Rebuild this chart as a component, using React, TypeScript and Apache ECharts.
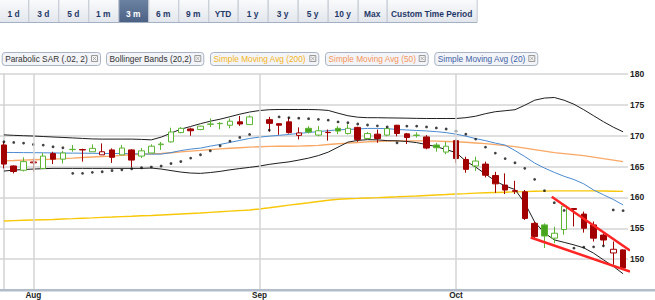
import React, { useEffect, useRef } from 'react';
import * as echarts from 'echarts';

const FONT = '"Liberation Sans", Arial, Helvetica, sans-serif';

// ---- x axis: weekday slots (holiday slot left empty) ----
const START_DATE = '2012-07-27';
const SLOT_COUNT = 64;
const MONTH_NAMES = ['Jan', 'Feb', 'Mar', 'Apr', 'May', 'Jun', 'Jul', 'Aug', 'Sep', 'Oct', 'Nov', 'Dec'];

// ---- price data (OHLC) ----
const opens = [168.5, 165.1, 164.4, 165.6, 164.7, 167.1, 166.2, 167.75, 167.75, 167.4,
  166.9, 167.7, 166.9, 167.7, 166.7, 167.2, 168.55, 169.0, 170.5, 171.1,
  171.0, 171.85, 171.95, 171.7, 172.25, 171.8, null, 172.6, 171.95, 172.25,
  170.05, 171.2, 170.1, 170.5, 171.2, 170.35, 171.35, 169.55, 170.25, 170.1,
  171.7, 170.3, 170.05, 169.8, 168.5, 167.35, 169.2, 166.15, 165.1, 165.4,
  163.55, 162.0, 161.1, 160.9, 155.8, 155.55, 153.4, 154.8, 158.2, 157.3,
  155.55, 153.9, 151.0, 151.5];
const closes = [165.4, 164.2, 165.8, 165.75, 166.7, 166.2, 167.2, 167.8, 167.7, 167.95,
  167.4, 166.5, 168.0, 166.05, 167.55, 168.3, 168.65, 170.6, 171.2, 170.8,
  171.55, 171.9, 172.0, 172.35, 171.9, 173.05, null, 172.0, 171.7, 170.5,
  170.45, 170.6, 170.8, 170.55, 170.75, 171.2, 169.4, 170.35, 169.55, 171.15,
  170.35, 169.7, 170.1, 168.0, 168.05, 168.3, 166.3, 164.55, 165.9, 163.6,
  162.2, 161.2, 161.0, 156.6, 153.65, 153.75, 154.2, 158.6, 158.05, 155.0,
  153.4, 153.1, 151.6, 148.55];
const lows = [164.7, 163.9, 164.2, 164.2, 164.7, 165.4, 165.5, 167.4, 165.8, 167.4,
  166.9, 165.6, 166.9, 164.9, 166.4, 167.2, 167.7, 168.9, 170.4, 170.0,
  170.9, 171.4, 171.05, 171.2, 171.6, 171.8, null, 170.65, 170.15, 170.35,
  169.4, 170.35, 169.9, 169.2, 170.25, 170.2, 169.0, 169.45, 168.85, 169.9,
  169.9, 168.65, 169.7, 167.8, 167.4, 167.0, 165.6, 164.0, 164.3, 163.25,
  160.75, 160.55, 160.55, 156.35, 153.4, 151.8, 152.6, 153.95, 155.3, 154.3,
  152.85, 152.15, 149.1, 148.3];
const highs = [169.0, 165.2, 166.5, 166.3, 167.2, 167.4, 167.55, 168.5, 167.9, 168.6,
  168.75, 167.95, 168.5, 167.8, 168.0, 168.6, 169.0, 171.3, 171.4, 171.3,
  171.6, 172.8, 172.2, 172.8, 173.2, 173.3, null, 173.05, 172.0, 172.95,
  171.35, 171.55, 171.55, 171.0, 171.55, 171.85, 171.45, 170.6, 171.0, 171.45,
  171.75, 170.45, 170.55, 170.1, 168.85, 169.0, 169.4, 166.6, 166.6, 165.8,
  164.15, 163.9, 162.7, 161.2, 156.1, 155.8, 155.25, 158.8, 158.25, 157.7,
  156.1, 154.2, 152.85, 151.6];

// ---- indicators ----
const bbUpper = [170.14, 170.06, 170.0, 169.95, 169.87, 169.79, 169.72, 169.64, 169.56, 169.48,
  169.45, 169.45, 169.45, 169.45, 169.4, 169.33, 169.77, 170.42, 171.06, 171.5,
  171.95, 172.35, 172.68, 173.08, 173.49, 173.84, 174.08, 174.21, 174.25, 174.25,
  174.25, 174.25, 174.21, 174.1, 173.65, 173.24, 173.0, 172.92, 172.92, 172.89,
  172.87, 172.84, 172.81, 172.79, 172.79, 172.79, 172.79, 172.92, 173.16, 173.57,
  173.89, 174.05, 174.21, 174.94, 175.75, 176.1, 176.19, 175.75, 175.1, 174.21,
  173.24, 172.27, 171.39, 170.63];
const bbLower = [164.27, 164.43, 164.52, 164.6, 164.66, 164.71, 164.71, 164.71, 164.71, 164.71,
  164.71, 164.71, 164.71, 164.71, 164.71, 164.76, 164.6, 164.35, 164.11, 163.95,
  163.9, 164.03, 164.22, 164.47, 164.68, 164.87, 165.08, 165.36, 165.57, 165.76,
  166.05, 166.37, 166.78, 167.34, 168.15, 168.96, 169.24, 169.36, 169.33, 169.2,
  169.17, 169.07, 168.88, 168.56, 168.23, 167.75, 167.26, 165.89, 164.92, 163.79,
  162.66, 161.85, 161.28, 159.1, 156.03, 154.25, 153.12, 152.72, 152.31, 151.83,
  150.97, 149.89, 148.84, 147.63];
const sma20 = [167.3, 167.28, 167.26, 167.25, 167.23, 167.22, 167.18, 167.18, 167.17, 167.15,
  167.13, 167.12, 167.1, 167.09, 167.05, 167.02, 167.02, 167.26, 167.59, 167.83,
  167.99, 168.31, 168.59, 168.91, 169.24, 169.56, 169.77, 169.93, 170.06, 170.21,
  170.37, 170.53, 170.66, 170.82, 170.95, 171.01, 171.09, 171.18, 171.18, 171.14,
  171.01, 170.93, 170.85, 170.77, 170.66, 170.5, 170.25, 169.93, 169.53, 169.2,
  168.8, 168.48, 167.59, 166.62, 165.57, 164.76, 164.06, 163.42, 162.9, 162.2,
  161.2, 160.43, 159.67, 158.78];
const sma50 = [165.94, 165.99, 166.05, 166.1, 166.15, 166.2, 166.28, 166.37, 166.47, 166.55,
  166.62, 166.7, 166.81, 166.92, 166.99, 167.05, 167.12, 167.25, 167.38, 167.51,
  167.62, 167.75, 167.86, 167.96, 168.06, 168.15, 168.22, 168.27, 168.29, 168.3,
  168.31, 168.38, 168.44, 168.57, 168.7, 168.8, 168.91, 169.01, 169.07, 169.12,
  169.17, 169.17, 169.17, 169.17, 169.12, 169.07, 169.01, 168.93, 168.83, 168.72,
  168.56, 168.4, 168.23, 167.99, 167.75, 167.51, 167.26, 167.1, 166.94, 166.78,
  166.54, 166.29, 166.05, 165.81];
const sma200 = [156.19, 156.24, 156.29, 156.34, 156.39, 156.43, 156.5, 156.56, 156.63, 156.69,
  156.76, 156.82, 156.89, 156.95, 157.02, 157.08, 157.16, 157.24, 157.32, 157.4,
  157.48, 157.58, 157.68, 157.78, 157.87, 157.97, 158.13, 158.33, 158.54, 158.75,
  158.94, 159.13, 159.34, 159.54, 159.7, 159.78, 159.84, 159.91, 159.97, 160.04,
  160.1, 160.17, 160.23, 160.31, 160.39, 160.47, 160.56, 160.62, 160.69, 160.75,
  160.8, 160.85, 160.9, 160.94, 160.99, 161.02, 161.06, 161.07, 161.07, 161.07,
  161.06, 161.04, 161.01, 160.98];
const sar = [169.01, 168.91, 168.8, 168.59, 168.48, 168.2, 168.04, 163.9, 163.9, 164.06,
  164.16, 164.35, 164.47, 164.65, 164.81, 164.92, 165.08, 165.49, 165.81, 166.37,
  166.91, 167.55, 168.36, 169.12, 169.72, 170.21, null, 170.9, 173.05, 172.92,
  172.84, 172.76, 172.65, 172.52, 172.24, 172.11, 171.9, 171.74, 171.6, 171.43,
  168.85, 171.55, 171.55, 171.42, 171.26, 171.09, 170.74, 170.25, 169.45, 168.15,
  167.18, 166.29, 165.61, 164.71, 162.93, 161.09, 159.15, 157.89, 151.78, 151.94,
  151.99, 152.15, 157.97, 157.86];

// ---- drawn trend lines (slot index, price) ----
const trendUpper = [[55.74, 160.1], [63.7, 151.4]];
const trendLower = [[53.6, 153.5], [63.7, 148.0]];

// ---- y axis ----
const Y_MIN = 145;
const Y_MAX = 180;
const Y_STEP = 5;

// ---- UI texts ----
const periodButtons = ['1 d', '3 d', '5 d', '1 m', '3 m', '6 m', '9 m', 'YTD', '1 y', '3 y', '5 y', '10 y', 'Max', 'Custom Time Period'];
const selectedButton = '3 m';
const indicatorLabels = ['Parabolic SAR (.02, 2)', 'Bollinger Bands (20,2)', 'Simple Moving Avg (200)', 'Simple Moving Avg (50)', 'Simple Moving Avg (20)'];

// layout (pixels)
const BTN_EDGES = [-1, 28.3, 58.3, 88.3, 118.3, 148.3, 178.3, 208.3, 237.7, 267.7, 297.7, 327.7, 357.7, 386.7, 476.7];
const BOX_EDGES = [[1.7, 100], [106, 203.3], [210, 318.3], [325, 427.7], [434.3, 537.3]];
const BOX_COLORS = ['#333333', '#333333', '#f5b418', '#f7945a', '#3f62a6'];

function weekdays(start: string, n: number): string[] {
  const out: string[] = [];
  const d = new Date(start + 'T00:00:00Z');
  while (out.length < n) {
    const wd = d.getUTCDay();
    if (wd !== 0 && wd !== 6) out.push(d.toISOString().slice(0, 10));
    d.setUTCDate(d.getUTCDate() + 1);
  }
  return out;
}

const categories = weekdays(START_DATE, SLOT_COUNT);
const monthStarts = categories
  .map((c, i) => (i > 0 && c.slice(5, 7) !== categories[i - 1].slice(5, 7) ? i : -1))
  .filter((i) => i >= 0);

const RED = '#a20000';
const GREEN = '#5cb533';
const GREEN_FILL = '#46a41e';

function buildCandles() {
  let prevClose: number | null = null;
  return opens.map((o, i) => {
    const c = closes[i];
    if (o == null || c == null) return { value: ['-', '-', '-', '-'] };
    const up = c > o;
    const green = prevClose != null && c >= prevClose;
    prevClose = c;
    const border = green ? GREEN : RED;
    const fill = up ? '#ffffff' : green ? GREEN_FILL : RED;
    return {
      value: [o, c, lows[i], highs[i]],
      itemStyle: { color: fill, color0: fill, borderColor: border, borderColor0: border },
    };
  });
}

function buildGraphics() {
  const els: any[] = [];
  periodButtons.forEach((label, k) => {
    const x0 = BTN_EDGES[k];
    const x1 = BTN_EDGES[k + 1];
    const sel = label === selectedButton;
    els.push({
      type: 'rect',
      shape: { x: x0 + 0.5, y: -5, width: x1 - x0, height: 27.5 },
      style: {
        fill: new echarts.graphic.LinearGradient(0, 0, 0, 1, sel
          ? [{ offset: 0, color: '#7489a8' }, { offset: 1, color: '#4b6184' }]
          : [{ offset: 0, color: '#ffffff' }, { offset: 1, color: '#e2e6ec' }]),
        stroke: '#c3c9d3',
        lineWidth: 1,
      },
    });
    els.push({
      type: 'text',
      x: (x0 + x1) / 2,
      y: 14,
      style: {
        text: label,
        fill: sel ? '#ffffff' : '#1f3868',
        fontSize: 8.4,
        fontWeight: 'bold',
        fontFamily: FONT,
        align: 'center',
        verticalAlign: 'middle',
        textAlign: 'center',
        textVerticalAlign: 'middle',
      },
    });
  });
  els.push({
    type: 'line',
    shape: { x1: 0, y1: 22.5, x2: 477, y2: 22.5 },
    style: { stroke: '#a3b1c6', lineWidth: 1 },
  });

  indicatorLabels.forEach((label, k) => {
    const [x0, x1] = BOX_EDGES[k];
    els.push({
      type: 'rect',
      shape: { x: x0 + 0.5, y: 52.5, width: x1 - x0, height: 13, r: 3 },
      style: { fill: '#f2f4f8', stroke: '#a9b3c3', lineWidth: 1 },
    });
    els.push({
      type: 'text',
      x: x0 + 3.5,
      y: 59,
      style: {
        text: label,
        fill: BOX_COLORS[k],
        fontSize: 8.3,
        fontFamily: FONT,
        align: 'left',
        verticalAlign: 'middle',
        textAlign: 'left',
        textVerticalAlign: 'middle',
      },
    });
    const ix = x1 - 9;
    els.push({
      type: 'rect',
      shape: { x: ix + 0.5, y: 55.5, width: 6, height: 6 },
      style: { fill: '#f4f4f4', stroke: '#9a9a9a', lineWidth: 1 },
    });
    els.push({
      type: 'line',
      shape: { x1: ix + 1.8, y1: 56.8, x2: ix + 5.2, y2: 60.2 },
      style: { stroke: '#9a9a9a', lineWidth: 0.8 },
    });
    els.push({
      type: 'line',
      shape: { x1: ix + 5.2, y1: 56.8, x2: ix + 1.8, y2: 60.2 },
      style: { stroke: '#9a9a9a', lineWidth: 0.8 },
    });
  });

  // bottom axis bar spanning the page width
  els.push({
    type: 'rect',
    shape: { x: 0, y: 289, width: 655, height: 2.6 },
    style: { fill: '#b2bccb' },
    z: 10,
  });
  return els;
}

export default function App() {
  const ref = useRef<HTMLDivElement>(null);

  useEffect(() => {
    if (!ref.current) return;
    const chart = echarts.init(ref.current, null, { renderer: 'svg' });
    const lineBase = { type: 'line', symbol: 'none', showSymbol: false, silent: true, xAxisIndex: 0, yAxisIndex: 0 };

    const option: any = {
      animation: false,
      textStyle: { fontFamily: FONT },
      grid: { left: -1, right: 27, top: 74, bottom: 10, containLabel: false, outerBoundsMode: 'none' },
      xAxis: [
        {
          type: 'category',
          data: categories,
          boundaryGap: true,
          axisLine: { show: false },
          axisTick: { show: false },
          splitLine: { show: false },
          axisLabel: {
            interval: (index: number) => monthStarts.includes(index),
            formatter: (v: string) => MONTH_NAMES[Number(v.slice(5, 7)) - 1],
            margin: 1.8,
            fontSize: 8.2,
            lineHeight: 8,
            fontWeight: 'bold',
            color: '#222',
            fontFamily: FONT,
          },
        },
        { type: 'value', min: -0.5, max: SLOT_COUNT - 0.5, show: false },
      ],
      yAxis: {
        type: 'value',
        position: 'right',
        min: Y_MIN,
        max: Y_MAX,
        interval: Y_STEP,
        axisLine: { show: true, lineStyle: { color: '#d2d2d2', width: 1.5 } },
        axisTick: { show: false },
        axisLabel: {
          margin: 2,
          fontSize: 8.5,
          fontWeight: 'bold',
          color: '#222',
          fontFamily: FONT,
          formatter: (v: number) => (v === Y_MIN ? '' : String(v)),
        },
        splitLine: { lineStyle: { color: '#d4d4d4', width: 1.5 } },
      },
      series: [
        {
          ...lineBase,
          name: 'SMA200',
          data: sma200,
          z: 2,
          lineStyle: { color: '#f8c808', width: 1.4 },
          markLine: {
            silent: true,
            symbol: ['none', 'none'],
            label: { show: false },
            lineStyle: { color: '#d4d4d4', width: 1.5, type: 'solid' },
            data: monthStarts.map((i) => ({ xAxis: categories[i] })),
          },
        },
        { ...lineBase, name: 'SMA50', data: sma50, z: 2, lineStyle: { color: '#f9a866', width: 1.4 } },
        { ...lineBase, name: 'SMA20', data: sma20, z: 2, lineStyle: { color: '#4a8ad0', width: 1 } },
        { ...lineBase, name: 'BB upper', data: bbUpper, z: 2, lineStyle: { color: '#1e1e1e', width: 1 } },
        { ...lineBase, name: 'BB lower', data: bbLower, z: 2, lineStyle: { color: '#1e1e1e', width: 1 } },
        {
          type: 'candlestick',
          name: 'Price',
          data: buildCandles(),
          barWidth: 6,
          z: 3,
          silent: true,
          itemStyle: { borderWidth: 1 },
        },
        {
          type: 'scatter',
          name: 'SAR',
          data: sar.map((v) => (v == null ? '-' : v)),
          symbol: 'circle',
          symbolSize: 2.8,
          z: 4,
          silent: true,
          itemStyle: { color: '#111111' },
        },
        {
          type: 'line', name: 'Trend upper', xAxisIndex: 1, yAxisIndex: 0, data: trendUpper,
          symbol: 'none', clip: false, z: 6, silent: true,
          lineStyle: { color: '#ff2525', width: 2.5 },
        },
        {
          type: 'line', name: 'Trend lower', xAxisIndex: 1, yAxisIndex: 0, data: trendLower,
          symbol: 'none', clip: false, z: 6, silent: true,
          lineStyle: { color: '#ff2525', width: 2.5 },
        },
      ],
      graphic: { elements: buildGraphics() },
    };

    chart.setOption(option);
    return () => chart.dispose();
  }, []);

  return (
    <div
      ref={ref}
      style={{ position: 'absolute', left: 0, top: 0, width: 655, height: 300, background: '#ffffff' }}
    />
  );
}
